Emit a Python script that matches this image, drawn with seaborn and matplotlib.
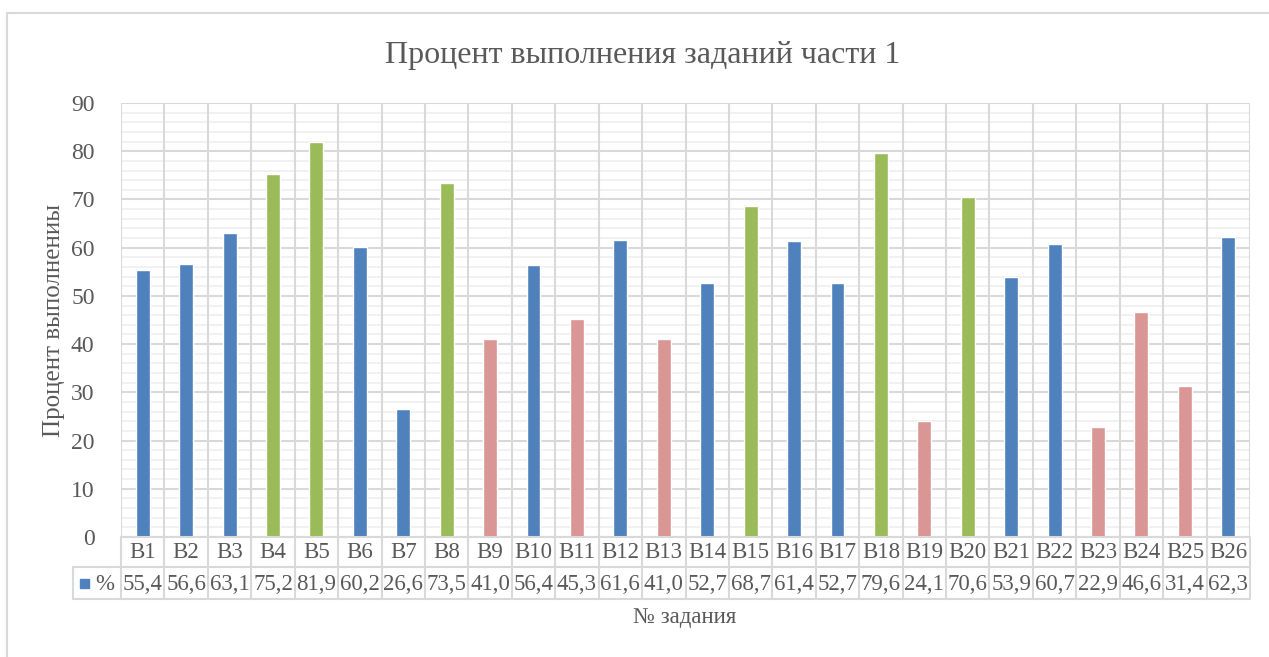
import matplotlib
matplotlib.use('Agg')
import matplotlib.pyplot as plt
import matplotlib.transforms as mtransforms
from matplotlib.lines import Line2D
from matplotlib.patches import Rectangle
import seaborn as sns

tasks = ['В' + str(i) for i in range(1, 27)]
values = [55.4, 56.6, 63.1, 75.2, 81.9, 60.2, 26.6, 73.5, 41.0, 56.4, 45.3, 61.6, 41.0,
          52.7, 68.7, 61.4, 52.7, 79.6, 24.1, 70.6, 53.9, 60.7, 22.9, 46.6, 31.4, 62.3]
# color group as in the reference
groups = ['mid', 'mid', 'mid', 'high', 'high', 'mid', 'mid', 'high', 'low', 'mid', 'low', 'mid', 'low',
          'mid', 'high', 'mid', 'mid', 'high', 'low', 'high', 'mid', 'mid', 'low', 'low', 'low', 'mid']
group_colors = {'mid': '#4F81BD', 'high': '#9BBB59', 'low': '#D99694'}

sns.set_style('white')
plt.rcParams['font.family'] = ['Liberation Serif', 'DejaVu Serif']
text_color = '#595959'
grid_major = '#D9D9D9'
grid_minor = '#EFEFEF'

W, H = 1269, 657
fig = plt.figure(figsize=(W / 100, H / 100), dpi=100)
ax = fig.add_axes([121 / W, 1 - 537 / H, (1250 - 121) / W, (537 - 103) / H])

sns.barplot(x=tasks, y=values, hue=groups, palette=group_colors, dodge=False,
            width=0.32, legend=False, ax=ax, zorder=3, saturation=1)

ax.set_ylim(0, 90)
ax.set_xlim(-0.5, len(tasks) - 0.5)
ax.set_yticks(range(0, 91, 10))
ax.set_yticks(range(0, 91, 2), minor=True)
ax.yaxis.grid(True, which='minor', color=grid_minor, linewidth=1.2, zorder=0)
ax.yaxis.grid(True, which='major', color=grid_major, linewidth=1.5, zorder=1)
ax.set_axisbelow(True)
for i in range(len(tasks) + 1):
    ax.axvline(i - 0.5, color=grid_major, linewidth=1.5, zorder=1)
for s in ax.spines.values():
    s.set_visible(False)
ax.tick_params(axis='y', which='both', length=0, pad=19, labelsize=17, labelcolor=text_color)
ax.tick_params(axis='x', length=0, labelbottom=False)
ax.set_xlabel('')
ax.set_ylabel('Процент выполнениы', fontsize=18, color=text_color, labelpad=4)

# data table under the axis
trans = mtransforms.blended_transform_factory(ax.transData, fig.transFigure)
cat_px = (1250 - 121) / len(tasks)
def fy(py):
    return 1 - py / H

row_lines = [537, 567, 599]
leg_x = -0.5 - 48 / cat_px
for py in row_lines:
    x0 = -0.5 if py == 537 else leg_x
    fig.add_artist(Line2D([x0, len(tasks) - 0.5], [fy(py), fy(py)], transform=trans,
                          color=grid_major, linewidth=1.5))
for i in range(len(tasks) + 1):
    fig.add_artist(Line2D([i - 0.5, i - 0.5], [fy(537), fy(599)], transform=trans,
                          color=grid_major, linewidth=1.5))
fig.add_artist(Line2D([leg_x, leg_x], [fy(567), fy(599)], transform=trans,
                      color=grid_major, linewidth=1.5))

for i, (t, v) in enumerate(zip(tasks, values)):
    fig.text(i, fy(552), t, transform=trans, ha='center', va='center',
             fontsize=16.5, color=text_color)
    fig.text(i, fy(584), f'{v:.1f}'.replace('.', ','), transform=trans, ha='center',
             va='center', fontsize=16.5, color=text_color)

fig.add_artist(Rectangle((80 / W, fy(588)), 9 / W, 9 / H, transform=fig.transFigure,
                         color=group_colors['mid']))
fig.text(95 / W, fy(584), '%', ha='left', va='center', fontsize=16.5, color=text_color)

fig.text(685 / W, fy(618), '№ задания', ha='center', va='center', fontsize=16.5, color=text_color)
fig.text(643 / W, fy(55), 'Процент выполнения заданий части 1', ha='center', va='center',
         fontsize=23, color=text_color)

# outer chart frame
fig.add_artist(Line2D([7 / W, 7 / W], [0, fy(13)], transform=fig.transFigure,
                      color=grid_major, linewidth=1.5))
fig.add_artist(Line2D([7 / W, 1], [fy(13), fy(13)], transform=fig.transFigure,
                      color=grid_major, linewidth=1.5))

fig.savefig('out.png', dpi=100)
